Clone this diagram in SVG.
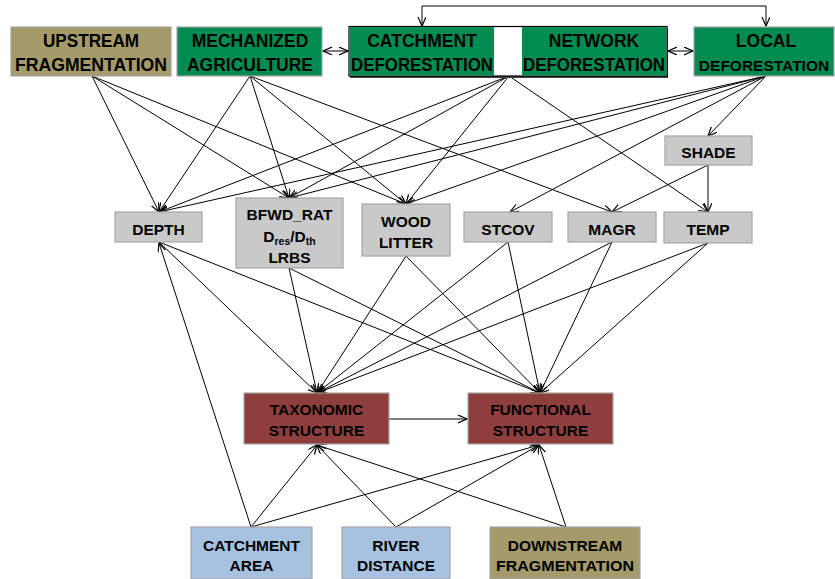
<svg xmlns="http://www.w3.org/2000/svg" width="835" height="579" viewBox="0 0 835 579">
<style>
text{font-family:"Liberation Sans",Arial,sans-serif;font-weight:bold;fill:#000;text-anchor:middle}
.t{font-size:17.5px}
.m{font-size:15.5px}
.b{font-size:15.5px}
.kh{fill:#A59A69;stroke:#A6A6A6;stroke-width:1.2}
.gr{fill:#008C50;stroke:#A6A6A6;stroke-width:1.2}
.grd{fill:#008C50;stroke:none}
.gy{fill:#C9C9C9;stroke:#A6A6A6;stroke-width:1.2}
.rd{fill:#8E3F3D;stroke:#A6A6A6;stroke-width:1.2}
.bl{fill:#A7C2E0;stroke:#A6A6A6;stroke-width:1.2}
#edges line,#edges path{stroke:#000;stroke-width:1;fill:none;marker-end:url(#ah)}
#edges .bi{marker-start:url(#ah)}
</style>
<defs>
<marker id="ah" markerWidth="10" markerHeight="10" refX="9" refY="4" orient="auto-start-reverse" markerUnits="userSpaceOnUse">
<path d="M0,0 L9,4 L0,8" fill="none" stroke="#000" stroke-width="1.2"/>
</marker>
</defs>
<rect width="835" height="579" fill="#fff"/>

<g id="edges">
<path class="bi" d="M422,26 V6 H766 V26"/>
<line class="bi" x1="323" y1="51" x2="348" y2="51"/>
<line class="bi" x1="495" y1="51" x2="521" y2="51"/>
<line class="bi" x1="668" y1="51" x2="693" y2="51"/>
<line x1="92" y1="76" x2="159" y2="212"/>
<line x1="92" y1="76" x2="289" y2="198"/>
<line x1="92" y1="76" x2="406" y2="204"/>
<line x1="250" y1="76" x2="159" y2="212"/>
<line x1="250" y1="76" x2="289" y2="198"/>
<line x1="250" y1="76" x2="406" y2="204"/>
<line x1="250" y1="76" x2="612" y2="212"/>
<line x1="509" y1="76" x2="159" y2="212"/>
<line x1="509" y1="76" x2="289" y2="198"/>
<line x1="509" y1="76" x2="406" y2="204"/>
<line x1="509" y1="76" x2="708" y2="212"/>
<line x1="766" y1="76" x2="159" y2="212"/>
<line x1="766" y1="76" x2="289" y2="198"/>
<line x1="766" y1="76" x2="406" y2="204"/>
<line x1="766" y1="76" x2="510" y2="212"/>
<line x1="766" y1="76" x2="708" y2="136"/>
<line x1="708" y1="165" x2="612" y2="212"/>
<line x1="708" y1="165" x2="708" y2="212"/>
<line x1="159" y1="242" x2="317" y2="393"/>
<line x1="159" y1="242" x2="540" y2="393"/>
<line x1="289" y1="268" x2="317" y2="393"/>
<line x1="289" y1="268" x2="540" y2="393"/>
<line x1="406" y1="256" x2="317" y2="393"/>
<line x1="406" y1="256" x2="540" y2="393"/>
<line x1="508" y1="242" x2="317" y2="393"/>
<line x1="508" y1="242" x2="540" y2="393"/>
<line x1="612" y1="242" x2="317" y2="393"/>
<line x1="612" y1="242" x2="540" y2="393"/>
<line x1="708" y1="243" x2="317" y2="393"/>
<line x1="708" y1="243" x2="540" y2="393"/>
<line x1="389" y1="419" x2="467" y2="419"/>
<line x1="251" y1="527" x2="159" y2="243"/>
<line x1="251" y1="527" x2="317" y2="445"/>
<line x1="251" y1="527" x2="539" y2="445"/>
<line x1="396" y1="527" x2="317" y2="445"/>
<line x1="396" y1="527" x2="539" y2="445"/>
<line x1="566" y1="527" x2="317" y2="445"/>
<line x1="566" y1="527" x2="539" y2="445"/>
</g>

<g id="upstream"><rect class="kh" x="11" y="27" width="160" height="49"/><text class="t" x="91" y="47" textLength="96" lengthAdjust="spacingAndGlyphs">UPSTREAM</text><text class="t" x="91" y="71" textLength="152" lengthAdjust="spacingAndGlyphs">FRAGMENTATION</text></g>
<g id="mechanized"><rect class="gr" x="177" y="27" width="145" height="49"/><text class="t" x="250" y="47">MECHANIZED</text><text class="t" x="250" y="71">AGRICULTURE</text></g>
<g id="catchment-network">
<rect x="350" y="28" width="318" height="50" fill="#404040"/>
<rect x="349" y="26.5" width="318" height="49.5" fill="#fff" stroke="#000" stroke-width="1.2"/>
<g id="catchment-deforestation"><rect class="grd" x="349.6" y="27.1" width="144.4" height="48.3"/><text class="t" x="422" y="47">CATCHMENT</text><text class="t" x="422" y="71" textLength="142" lengthAdjust="spacingAndGlyphs">DEFORESTATION</text></g>
<g id="network-deforestation"><rect class="grd" x="522" y="27.1" width="144.4" height="48.3"/><text class="t" x="594" y="47">NETWORK</text><text class="t" x="594" y="71" textLength="142" lengthAdjust="spacingAndGlyphs">DEFORESTATION</text></g>
</g>
<g id="local"><rect class="gr" x="694" y="27" width="140" height="49"/><text class="t" x="766" y="47">LOCAL</text><text x="764" y="71" style="font-size:15.5px">DEFORESTATION</text></g>

<g id="shade"><rect class="gy" x="665" y="136" width="87" height="29"/><text class="m" x="708.5" y="158">SHADE</text></g>
<g id="depth"><rect class="gy" x="115" y="212" width="87" height="30"/><text class="m" x="158.5" y="235">DEPTH</text></g>
<g id="bfwd"><rect class="gy" x="236" y="198" width="107" height="70"/><text class="m" x="289.5" y="220">BFWD_RAT</text><text class="m" x="289.5" y="242">D<tspan font-size="10.5" dy="3">res</tspan><tspan dy="-3">/D</tspan><tspan font-size="10.5" dy="3">th</tspan></text><text class="m" x="289.5" y="263">LRBS</text></g>
<g id="wood"><rect class="gy" x="362" y="204" width="88" height="52"/><text class="m" x="406" y="227">WOOD</text><text class="m" x="406" y="248">LITTER</text></g>
<g id="stcov"><rect class="gy" x="464" y="212" width="88" height="30"/><text class="m" x="508" y="235">STCOV</text></g>
<g id="magr"><rect class="gy" x="568" y="212" width="88" height="30"/><text class="m" x="612" y="235">MAGR</text></g>
<g id="temp"><rect class="gy" x="664" y="212" width="88" height="31"/><text class="m" x="708" y="235">TEMP</text></g>

<g id="taxonomic"><rect class="rd" x="244" y="393" width="145" height="51"/><text class="b" x="316.5" y="415">TAXONOMIC</text><text class="b" x="316.5" y="436">STRUCTURE</text></g>
<g id="functional"><rect class="rd" x="468" y="393" width="145" height="51"/><text class="b" x="540.5" y="415">FUNCTIONAL</text><text class="b" x="540.5" y="436">STRUCTURE</text></g>

<g id="catchment-area"><rect class="bl" x="191" y="527" width="121" height="52"/><text class="b" x="251.5" y="551">CATCHMENT</text><text class="b" x="251.5" y="571">AREA</text></g>
<g id="river-distance"><rect class="bl" x="342" y="527" width="108" height="52"/><text class="b" x="396" y="551">RIVER</text><text class="b" x="396" y="571">DISTANCE</text></g>
<g id="downstream"><rect class="kh" x="490" y="527" width="150" height="52"/><text class="b" x="565" y="551">DOWNSTREAM</text><text class="b" x="565" y="571" textLength="138" lengthAdjust="spacingAndGlyphs">FRAGMENTATION</text></g>
</svg>
